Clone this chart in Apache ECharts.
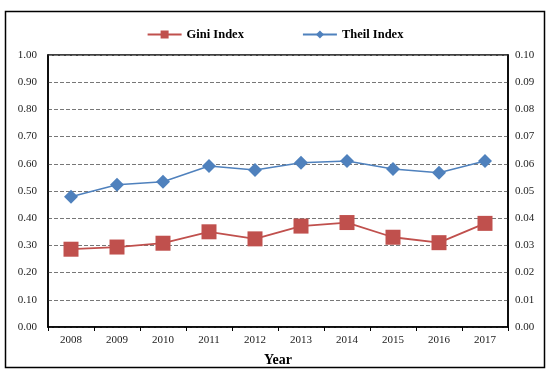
<!DOCTYPE html>
<html><head><meta charset="utf-8">
<script src="https://cdn.jsdelivr.net/npm/echarts@6/dist/echarts.min.js"></script>
<style>html,body{margin:0;padding:0;background:#fff}#c{width:550px;height:375px}</style>
</head><body><div id="c"></div>
<script>
const years = ['2008','2009','2010','2011','2012','2013','2014','2015','2016','2017'];
const gini = [0.286, 0.294, 0.308, 0.350, 0.324, 0.371, 0.384, 0.330, 0.310, 0.381];
const theil = [0.0479, 0.0523, 0.0534, 0.0592, 0.0577, 0.0604, 0.0610, 0.0581, 0.0567, 0.0610];
const chart = echarts.init(document.getElementById('c'));
const font = 'Liberation Serif';
chart.setOption({
  animation: false,
  backgroundColor: '#fff',
  graphic: [{type:'rect', shape:{x:5.5,y:11.5,width:539,height:356}, style:{fill:'none', stroke:'#000', lineWidth:1.5}, z:-1}],
  legend: {
    top: 23, left: 'center', itemGap: 58, itemWidth: 34, itemHeight: 10,
    textStyle: {fontFamily: font, fontWeight: 'bold', fontSize: 12.5, color: '#000'},
    data: ['Gini Index', 'Theil Index']
  },
  grid: {left: 48, right: 42, top: 55, bottom: 48, show: true, borderColor: '#000', borderWidth: 1.5},
  xAxis: {
    type: 'category', data: years, boundaryGap: true,
    name: 'Year', nameLocation: 'middle', nameGap: 26,
    nameTextStyle: {fontFamily: font, fontWeight: 'bold', fontSize: 14, color: '#000'},
    axisLine: {lineStyle: {color: '#000', width: 1.5}},
    axisTick: {show: true, inside: false, length: 4, lineStyle: {color: '#000'}},
    axisLabel: {fontFamily: font, fontSize: 11, color: '#222', margin: 8}
  },
  yAxis: [{
    type: 'value', min: 0, max: 1, interval: 0.1,
    axisLine: {show: true, lineStyle: {color: '#000', width: 1.5}},
    axisTick: {show: false},
    axisLabel: {fontFamily: font, fontSize: 11, color: '#222', margin: 11, formatter: v => v.toFixed(2)},
    splitLine: {show: true, lineStyle: {color: '#777', type: [4, 2], width: 1.2}}
  }, {
    type: 'value', min: 0, max: 0.1, interval: 0.01, position: 'right',
    axisLine: {show: true, lineStyle: {color: '#000', width: 1.5}},
    axisTick: {show: false},
    axisLabel: {fontFamily: font, fontSize: 11, color: '#222', margin: 7, formatter: v => v.toFixed(2)},
    splitLine: {show: false}
  }],
  series: [{
    name: 'Gini Index', type: 'line', yAxisIndex: 0, data: gini,
    symbol: 'rect', symbolSize: 15,
    lineStyle: {color: '#C0504D', width: 1.8},
    itemStyle: {color: '#C0504D'}
  }, {
    name: 'Theil Index', type: 'line', yAxisIndex: 1, data: theil,
    symbol: 'diamond', symbolSize: 14,
    lineStyle: {color: '#4F81BD', width: 1.5},
    itemStyle: {color: '#4F81BD'}
  }]
});
</script></body></html>
